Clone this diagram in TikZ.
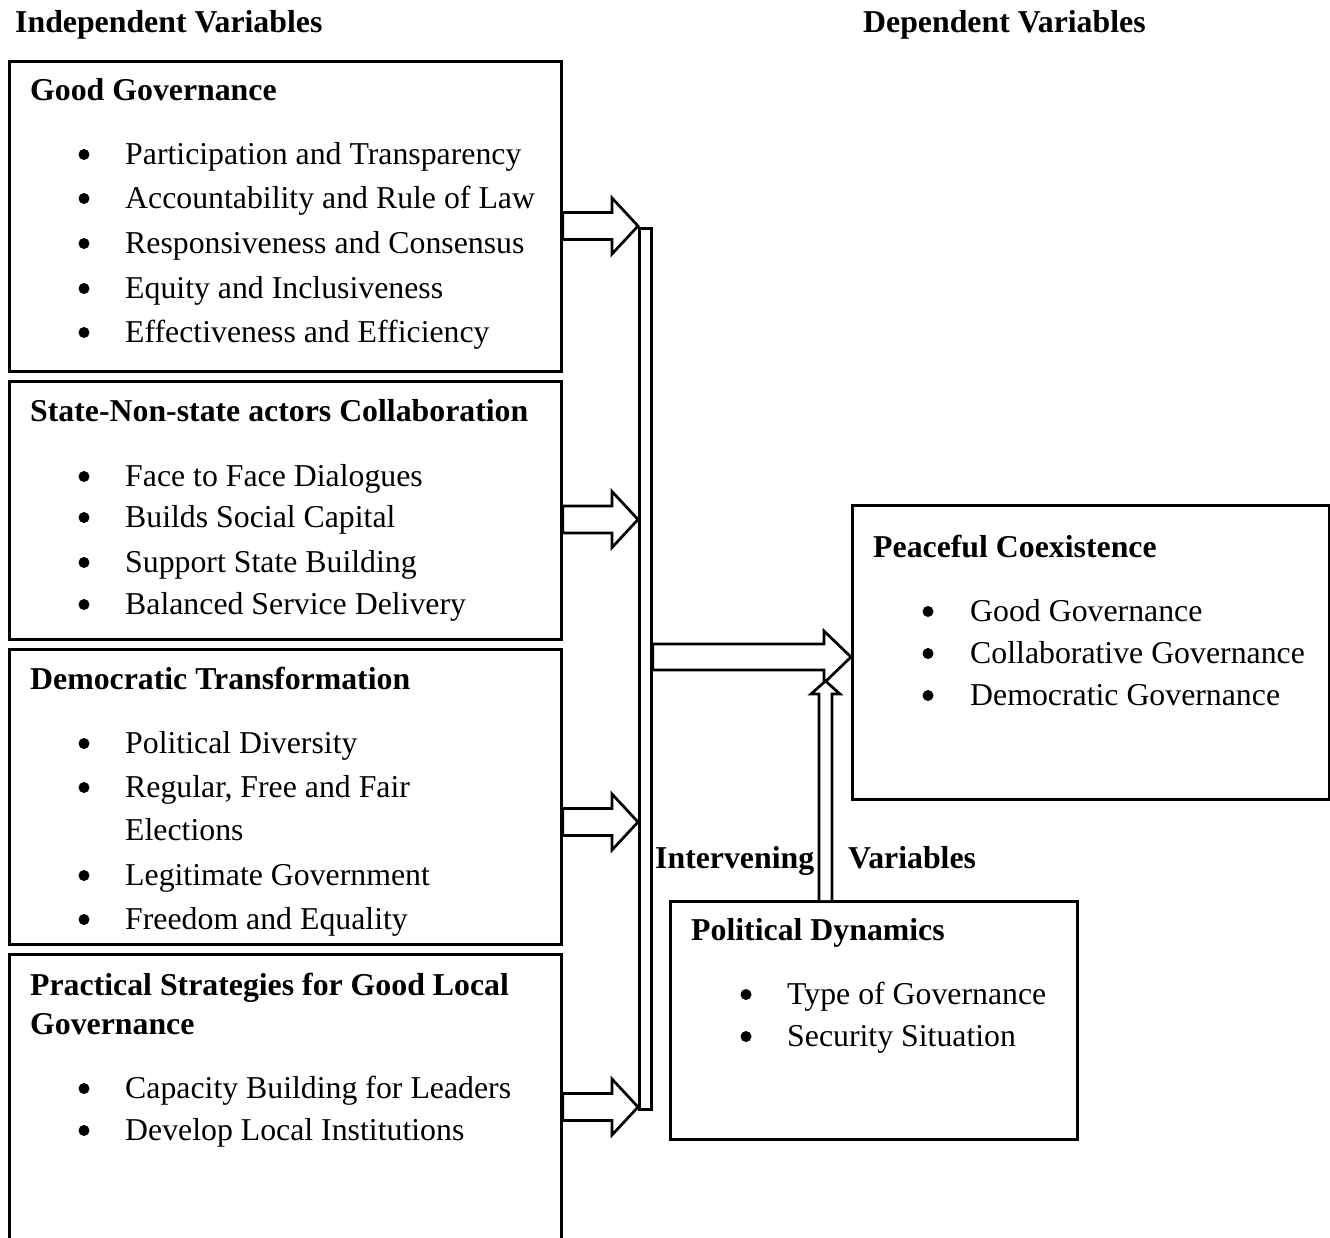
\documentclass[tikz,border=0pt]{standalone}
\usepackage{fontspec}
\setmainfont{Liberation Serif}
\usetikzlibrary{calc}
\newcommand\fsz{\fontsize{31.8}{38}\selectfont}
\begin{document}
\begin{tikzpicture}[x=1pt,y=-1pt,
  every node/.style={font=\fsz},
  box/.style={draw, line width=2.7pt, inner sep=0pt, anchor=north west},
  hd/.style={anchor=base west, inner sep=0pt, font=\fsz\bfseries},
  itm/.style={anchor=base west, inner sep=0pt},
  bul/.style={circle, fill=black, inner sep=0pt, minimum size=11pt},
  blk/.style={draw, fill=white, line width=2.7pt, line join=miter}]
\clip (0,0) rectangle (1330,1237);
\fill[white] (0,0) rectangle (1330,1237);
% titles
\node[hd] (tind) at (15,32) {Independent Variables};
\node[hd] (tdep) at (863,32) {Dependent Variables};
% boxes
\node[box, minimum width=552pt, minimum height=310pt] (gg) at (8,60) {};
\node[box, minimum width=552pt, minimum height=258pt] (sn) at (8,380) {};
\node[box, minimum width=552pt, minimum height=295pt] (dt) at (8,648) {};
\node[box, minimum width=552pt, minimum height=320pt] (ps) at (8,953) {};
\node[box, minimum width=477pt, minimum height=294pt] (pc) at (851,504) {};
\node[box, minimum width=407pt, minimum height=238pt] (pd) at (669,900) {};
% Good Governance
\node[hd] (gghd) at (30,100) {Good Governance};
\foreach \t/\y [count=\i] in {Participation and Transparency/164, Accountability and Rule of Law/208, Responsiveness and Consensus/253, Equity and Inclusiveness/298, Effectiveness and Efficiency/342}{
  \node[bul] (ggb\i) at (84,\y-9.5) {};
  \node[itm] (ggi\i) at (125,\y) {\t};
}
% State-Non-state
\node[hd] (snhd) at (30,421) {State-Non-state actors Collaboration};
\foreach \t/\y [count=\i] in {Face to Face Dialogues/486, Builds Social Capital/527, Support State Building/572, Balanced Service Delivery/614}{
  \node[bul] (snb\i) at (84,\y-9.5) {};
  \node[itm] (sni\i) at (125,\y) {\t};
}
% Democratic Transformation
\node[hd] (dthd) at (30,689) {Democratic Transformation};
\foreach \t/\y [count=\i] in {Political Diversity/753, {Regular, Free and Fair}/797, Legitimate Government/885, Freedom and Equality/929}{
  \node[bul] (dtb\i) at (84,\y-9.5) {};
  \node[itm] (dti\i) at (125,\y) {\t};
}
\node[itm] (dti2b) at (125,840) {Elections};
% Practical Strategies
\node[hd] (pshd) at (30,995) {Practical Strategies for Good Local};
\node[hd] (pshd2) at (30,1034) {Governance};
\foreach \t/\y [count=\i] in {Capacity Building for Leaders/1098, Develop Local Institutions/1140}{
  \node[bul] (psb\i) at (84,\y-9.5) {};
  \node[itm] (psi\i) at (125,\y) {\t};
}
% Peaceful Coexistence
\node[hd] (pchd) at (873,557) {Peaceful Coexistence};
\foreach \t/\y [count=\i] in {Good Governance/621, Collaborative Governance/663, Democratic Governance/705}{
  \node[bul] (pcb\i) at (928,\y-9.5) {};
  \node[itm] (pci\i) at (970,\y) {\t};
}
% Political Dynamics
\node[hd] (pdhd) at (691,940) {Political Dynamics};
\foreach \t/\y [count=\i] in {Type of Governance/1004, Security Situation/1046}{
  \node[bul] (pdb\i) at (746,\y-9.5) {};
  \node[itm] (pdi\i) at (787,\y) {\t};
}
% intervening label
\node[hd] (tint1) at (655,868) {Intervening};
\node[hd] (tint2) at (848,868) {Variables};
% collector bar
\node[draw, fill=white, line width=2.7pt, inner sep=0pt, minimum width=12pt, minimum height=881pt, anchor=north west] (bar) at (638,227) {};
% block arrows from boxes to bar
\foreach \yc/\src in {226/gg, 519.5/sn, 822/dt, 1107/ps}{
  \coordinate (tip) at (bar.west |- 0,\yc);
  \draw[blk] (\src.east |- 0,\yc-13.5) -- ($(tip)+(-26,-13.5)$) -- ($(tip)+(-26,-28)$) -- (tip)
     -- ($(tip)+(-26,28)$) -- ($(tip)+(-26,13.5)$) -- (\src.east |- 0,\yc+13.5) -- cycle;
}
% big arrow from bar to Peaceful Coexistence
\coordinate (btip) at (pc.west |- 0,657);
\draw[blk] (bar.east |- 0,644) -- ($(btip)+(-27,-13)$) -- ($(btip)+(-27,-26)$) -- (btip)
   -- ($(btip)+(-27,26)$) -- ($(btip)+(-27,13)$) -- (bar.east |- 0,670) -- cycle;
% upward arrow from Political Dynamics
\coordinate (ubase) at ($(pd.north west)+(156.5,0)$);
\coordinate (utip) at (ubase |- 0,681);
\draw[blk] ($(ubase)+(-6.5,0)$) -- ($(utip)+(-6.5,13)$) -- ($(utip)+(-14.5,13)$) -- (utip)
   -- ($(utip)+(14.5,13)$) -- ($(utip)+(6.5,13)$) -- ($(ubase)+(6.5,0)$);
\end{tikzpicture}
\end{document}
